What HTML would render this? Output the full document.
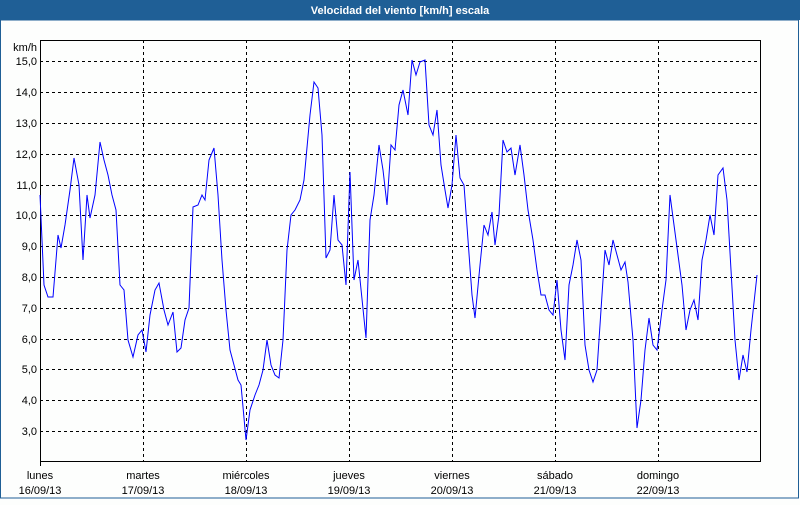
<!DOCTYPE html>
<html><head><meta charset="utf-8"><style>
body{margin:0;width:800px;height:500px;overflow:hidden;background:#fdfefd}
</style></head><body>
<svg width="800" height="500" xmlns="http://www.w3.org/2000/svg" font-family="Liberation Sans, sans-serif" font-size="11">
<rect x="0" y="0" width="800" height="500" fill="#fdfefd"/>
<rect x="0" y="0" width="800" height="20" fill="#1f5f96"/>
<text x="400" y="14" fill="#fff" font-weight="bold" font-size="11" text-anchor="middle">Velocidad del viento [km/h] escala</text>
<rect x="0.5" y="20" width="798" height="478" fill="none" stroke="#1f5f96" stroke-width="1"/>
<g stroke="#000" stroke-dasharray="3,3" stroke-width="1">
<line x1="40" x2="760" y1="61.5" y2="61.5"/><line x1="40" x2="760" y1="92.5" y2="92.5"/>
<line x1="40" x2="760" y1="123.5" y2="123.5"/><line x1="40" x2="760" y1="154.5" y2="154.5"/>
<line x1="40" x2="760" y1="185.5" y2="185.5"/><line x1="40" x2="760" y1="215.5" y2="215.5"/>
<line x1="40" x2="760" y1="246.5" y2="246.5"/><line x1="40" x2="760" y1="277.5" y2="277.5"/>
<line x1="40" x2="760" y1="308.5" y2="308.5"/><line x1="40" x2="760" y1="339.5" y2="339.5"/>
<line x1="40" x2="760" y1="369.5" y2="369.5"/><line x1="40" x2="760" y1="400.5" y2="400.5"/>
<line x1="40" x2="760" y1="431.5" y2="431.5"/>
<line x1="143.5" x2="143.5" y1="40" y2="461"/><line x1="246.5" x2="246.5" y1="40" y2="461"/>
<line x1="349.5" x2="349.5" y1="40" y2="461"/><line x1="452.5" x2="452.5" y1="40" y2="461"/>
<line x1="555.5" x2="555.5" y1="40" y2="461"/><line x1="658.5" x2="658.5" y1="40" y2="461"/>
</g>
<rect x="40.5" y="40.5" width="720" height="421" fill="none" stroke="#000"/>
<line x1="40.5" x2="40.5" y1="461" y2="466" stroke="#000"/>
<g fill="#000" text-anchor="end">
<text x="37" y="51">km/h</text>
<text x="37" y="65">15,0</text><text x="37" y="96">14,0</text><text x="37" y="127">13,0</text>
<text x="37" y="158">12,0</text><text x="37" y="189">11,0</text><text x="37" y="219">10,0</text>
<text x="37" y="250">9,0</text><text x="37" y="281">8,0</text><text x="37" y="312">7,0</text>
<text x="37" y="343">6,0</text><text x="37" y="373">5,0</text><text x="37" y="404">4,0</text>
<text x="37" y="435">3,0</text>
</g>
<g fill="#000" text-anchor="middle">
<text x="40" y="479">lunes</text><text x="40" y="494">16/09/13</text>
<text x="143" y="479">martes</text><text x="143" y="494">17/09/13</text>
<text x="246" y="479">miércoles</text><text x="246" y="494">18/09/13</text>
<text x="349" y="479">jueves</text><text x="349" y="494">19/09/13</text>
<text x="452" y="479">viernes</text><text x="452" y="494">20/09/13</text>
<text x="555" y="479">sábado</text><text x="555" y="494">21/09/13</text>
<text x="658" y="479">domingo</text><text x="658" y="494">22/09/13</text>
</g>
<polyline fill="none" stroke="#0000ff" stroke-width="1" points="40,195 44,285 48,297 53,297 56,260 58,235 61,248 65,225 70,190 74,158 79,185 83,260 87,195 90,218 95,195 100,142 104,160 108,175 112,195 116,210 120,285 124,290 128,340 133,357 138,335 142,330 146,352 150,315 155,290 159,283 164,310 168,325 173,312 177,352 181,348 185,320 189,308 193,207 198,205 202,195 205,200 209,160 214,148 218,195 222,260 226,310 230,350 234,365 238,380 241,385 246,440 250,410 255,395 259,385 263,370 267,340 271,365 275,375 279,378 283,340 287,250 291,215 295,210 300,200 304,180 310,115 314,82 318,88 322,135 326,258 330,250 334,195 338,240 342,245 346,285 350,172 354,280 358,260 366,338 370,220 374,195 379,145 383,170 387,205 391,145 395,150 399,105 403,90 408,115 412,60 416,75 420,62 425,60 429,125 433,135 437,110 441,165 445,190 448,208 452,185 456,135 460,178 464,185 468,240 472,295 475,318 480,265 484,225 488,235 492,212 495,245 499,215 503,140 507,152 511,148 515,175 520,145 524,175 528,210 533,240 537,270 541,295 545,295 549,310 553,315 557,280 561,330 565,360 569,285 573,265 577,240 581,260 585,345 589,370 593,382 597,370 601,310 605,250 609,265 613,240 617,255 621,270 625,262 628,282 633,340 637,428 641,400 645,350 649,318 653,345 657,350 662,310 666,280 670,195 674,225 678,255 682,285 686,330 690,310 694,300 698,320 702,260 706,240 710,215 714,235 718,175 723,168 727,200 731,270 735,340 739,380 743,355 747,372 751,330 757,275"/>
</svg>
</body></html>
